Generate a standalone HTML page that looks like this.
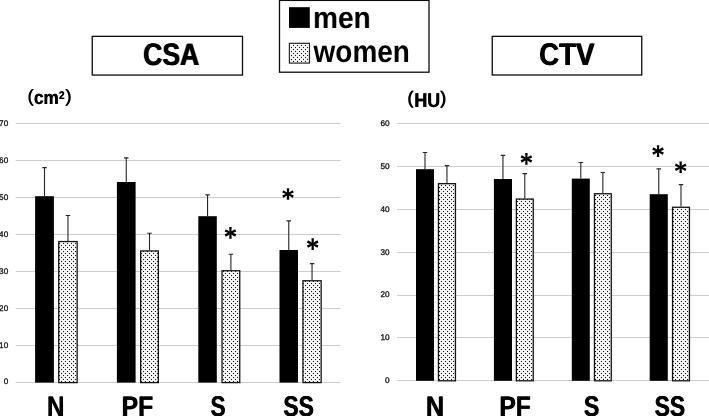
<!DOCTYPE html>
<html><head><meta charset="utf-8"><title>CSA / CTV</title>
<style>html,body{margin:0;padding:0;background:#fff;}body{width:709px;height:416px;overflow:hidden;font-family:"Liberation Sans",sans-serif;}svg{display:block;}text{font-family:"Liberation Sans",sans-serif;font-kerning:none;text-rendering:geometricPrecision;}</style>
</head><body>
<svg width="709" height="416" viewBox="0 0 709 416">
<defs>
<pattern id="dots" width="4" height="4" patternUnits="userSpaceOnUse"><rect width="4" height="4" fill="#fff"/><rect x="0.92" y="0.92" width="1.16" height="1.16" fill="#161616"/><rect x="2.92" y="2.92" width="1.08" height="1.08" fill="#161616"/><rect x="0" y="2.92" width="0.08" height="1.08" fill="#161616"/><rect x="2.92" y="0" width="1.08" height="0.08" fill="#161616"/></pattern>
<g id="ast"><path d="M-1.25,-5.8 L1.25,-5.8 L0.9,0 L1.25,5.8 L-1.25,5.8 L-0.9,0 Z" fill="#000"/><path d="M-1.3,-5.85 L1.3,-5.85 L0.9,0 L1.3,5.85 L-1.3,5.85 L-0.9,0 Z" fill="#000" transform="rotate(64)"/><path d="M-1.3,-5.85 L1.3,-5.85 L0.9,0 L1.3,5.85 L-1.3,5.85 L-0.9,0 Z" fill="#000" transform="rotate(-64)"/></g>
</defs>
<rect width="709" height="416" fill="#fff"/>
<g style="filter:grayscale(1)">
<line x1="15.8" y1="123.5" x2="340.6" y2="123.5" stroke="#cdcdcd" stroke-width="1"/>
<text x="8.2" y="126.15" font-size="8.2" text-anchor="end" fill="#111" stroke="#111" stroke-width="0.3">70</text>
<line x1="15.8" y1="160.5" x2="340.6" y2="160.5" stroke="#cdcdcd" stroke-width="1"/>
<text x="8.2" y="163.05" font-size="8.2" text-anchor="end" fill="#111" stroke="#111" stroke-width="0.3">60</text>
<line x1="15.8" y1="197.5" x2="340.6" y2="197.5" stroke="#cdcdcd" stroke-width="1"/>
<text x="8.2" y="199.95" font-size="8.2" text-anchor="end" fill="#111" stroke="#111" stroke-width="0.3">50</text>
<line x1="15.8" y1="234.5" x2="340.6" y2="234.5" stroke="#cdcdcd" stroke-width="1"/>
<text x="8.2" y="236.85" font-size="8.2" text-anchor="end" fill="#111" stroke="#111" stroke-width="0.3">40</text>
<line x1="15.8" y1="271.5" x2="340.6" y2="271.5" stroke="#cdcdcd" stroke-width="1"/>
<text x="8.2" y="273.75" font-size="8.2" text-anchor="end" fill="#111" stroke="#111" stroke-width="0.3">30</text>
<line x1="15.8" y1="308.5" x2="340.6" y2="308.5" stroke="#cdcdcd" stroke-width="1"/>
<text x="8.2" y="310.65" font-size="8.2" text-anchor="end" fill="#111" stroke="#111" stroke-width="0.3">20</text>
<line x1="15.8" y1="345.5" x2="340.6" y2="345.5" stroke="#cdcdcd" stroke-width="1"/>
<text x="8.2" y="347.55" font-size="8.2" text-anchor="end" fill="#111" stroke="#111" stroke-width="0.3">10</text>
<line x1="15.8" y1="382.5" x2="340.6" y2="382.5" stroke="#cdcdcd" stroke-width="1"/>
<text x="8.2" y="384.45" font-size="8.2" text-anchor="end" fill="#111" stroke="#111" stroke-width="0.3">0</text>
<rect x="35.1" y="196.2" width="18.80" height="186.40" fill="#000"/>
<path d="M44.50,196.2 V167.65 M42.25,167.65 H46.75" stroke="#262626" stroke-width="1.1" fill="none"/>
<rect x="116.9" y="182.0" width="18.70" height="200.60" fill="#000"/>
<path d="M126.25,182.0 V157.85 M124.00,157.85 H128.50" stroke="#262626" stroke-width="1.1" fill="none"/>
<rect x="198.3" y="216.2" width="18.50" height="166.40" fill="#000"/>
<path d="M207.55,216.2 V194.85 M205.30,194.85 H209.80" stroke="#262626" stroke-width="1.1" fill="none"/>
<rect x="279.5" y="250.0" width="18.50" height="132.60" fill="#000"/>
<path d="M288.75,250.0 V220.85 M286.50,220.85 H291.00" stroke="#262626" stroke-width="1.1" fill="none"/>
<rect x="58.75" y="241.55" width="18.40" height="141.05" fill="url(#dots)" stroke="#141414" stroke-width="1.3"/>
<path d="M67.95,240.9 V215.45 M65.70,215.45 H70.20" stroke="#262626" stroke-width="1.1" fill="none"/>
<rect x="140.65" y="250.95" width="17.70" height="131.65" fill="url(#dots)" stroke="#141414" stroke-width="1.3"/>
<path d="M149.50,250.3 V233.25 M147.25,233.25 H151.75" stroke="#262626" stroke-width="1.1" fill="none"/>
<rect x="222.05" y="270.75" width="17.70" height="111.85" fill="url(#dots)" stroke="#141414" stroke-width="1.3"/>
<path d="M230.90,270.1 V254.25 M228.65,254.25 H233.15" stroke="#262626" stroke-width="1.1" fill="none"/>
<rect x="302.95" y="280.75" width="18.20" height="101.85" fill="url(#dots)" stroke="#141414" stroke-width="1.3"/>
<path d="M312.05,280.1 V263.65 M309.80,263.65 H314.30" stroke="#262626" stroke-width="1.1" fill="none"/>
<line x1="397.0" y1="123.5" x2="709" y2="123.5" stroke="#cdcdcd" stroke-width="1"/>
<text x="389.5" y="126.20" font-size="8.2" text-anchor="end" fill="#111" stroke="#111" stroke-width="0.3">60</text>
<line x1="397.0" y1="166.5" x2="709" y2="166.5" stroke="#cdcdcd" stroke-width="1"/>
<text x="389.5" y="168.98" font-size="8.2" text-anchor="end" fill="#111" stroke="#111" stroke-width="0.3">50</text>
<line x1="397.0" y1="209.5" x2="709" y2="209.5" stroke="#cdcdcd" stroke-width="1"/>
<text x="389.5" y="211.76" font-size="8.2" text-anchor="end" fill="#111" stroke="#111" stroke-width="0.3">40</text>
<line x1="397.0" y1="252.5" x2="709" y2="252.5" stroke="#cdcdcd" stroke-width="1"/>
<text x="389.5" y="254.54" font-size="8.2" text-anchor="end" fill="#111" stroke="#111" stroke-width="0.3">30</text>
<line x1="397.0" y1="295.5" x2="709" y2="295.5" stroke="#cdcdcd" stroke-width="1"/>
<text x="389.5" y="297.32" font-size="8.2" text-anchor="end" fill="#111" stroke="#111" stroke-width="0.3">20</text>
<line x1="397.0" y1="337.5" x2="709" y2="337.5" stroke="#cdcdcd" stroke-width="1"/>
<text x="389.5" y="340.10" font-size="8.2" text-anchor="end" fill="#111" stroke="#111" stroke-width="0.3">10</text>
<line x1="397.0" y1="380.5" x2="709" y2="380.5" stroke="#cdcdcd" stroke-width="1"/>
<text x="389.5" y="382.88" font-size="8.2" text-anchor="end" fill="#111" stroke="#111" stroke-width="0.3">0</text>
<rect x="416.0" y="169.2" width="18.00" height="211.60" fill="#000"/>
<path d="M425.00,169.2 V152.45 M422.75,152.45 H427.25" stroke="#262626" stroke-width="1.1" fill="none"/>
<rect x="493.9" y="179.0" width="18.10" height="201.80" fill="#000"/>
<path d="M502.95,179.0 V155.35 M500.70,155.35 H505.20" stroke="#262626" stroke-width="1.1" fill="none"/>
<rect x="571.8" y="178.6" width="18.00" height="202.20" fill="#000"/>
<path d="M580.80,178.6 V162.55 M578.55,162.55 H583.05" stroke="#262626" stroke-width="1.1" fill="none"/>
<rect x="649.7" y="194.2" width="18.10" height="186.60" fill="#000"/>
<path d="M658.75,194.2 V168.85 M656.50,168.85 H661.00" stroke="#262626" stroke-width="1.1" fill="none"/>
<rect x="438.45" y="183.65" width="17.00" height="197.15" fill="url(#dots)" stroke="#141414" stroke-width="1.3"/>
<path d="M446.95,183.0 V165.65 M444.70,165.65 H449.20" stroke="#262626" stroke-width="1.1" fill="none"/>
<rect x="516.35" y="199.05" width="16.90" height="181.75" fill="url(#dots)" stroke="#141414" stroke-width="1.3"/>
<path d="M524.80,198.4 V173.65 M522.55,173.65 H527.05" stroke="#262626" stroke-width="1.1" fill="none"/>
<rect x="594.45" y="193.75" width="16.80" height="187.05" fill="url(#dots)" stroke="#141414" stroke-width="1.3"/>
<path d="M602.85,193.1 V172.45 M600.60,172.45 H605.10" stroke="#262626" stroke-width="1.1" fill="none"/>
<rect x="672.55" y="207.25" width="16.90" height="173.55" fill="url(#dots)" stroke="#141414" stroke-width="1.3"/>
<path d="M681.00,206.6 V184.65 M678.75,184.65 H683.25" stroke="#262626" stroke-width="1.1" fill="none"/>
<use href="#ast" x="230.45" y="232.9"/>
<use href="#ast" x="288.0" y="194.0"/>
<use href="#ast" x="312.7" y="244.1"/>
<use href="#ast" x="526.4" y="158.9"/>
<use href="#ast" x="658.05" y="151.1"/>
<use href="#ast" x="680.65" y="167.25"/>
<rect x="92.25" y="36.35" width="150.25" height="38.7" fill="#fff" stroke="#0c0c0c" stroke-width="1.3"/>
<rect x="492.25" y="36.35" width="149.5" height="38.65" fill="#fff" stroke="#0c0c0c" stroke-width="1.3"/>
<text id="t1" transform="translate(142.710,64.597) scale(1.3283,1.5537)" font-size="20" font-weight="bold" fill="#000">CSA</text>
<use href="#t1" x="0.900"/>
<text id="t2" transform="translate(538.663,64.594) scale(1.3857,1.5678)" font-size="20" font-weight="bold" fill="#000">CTV</text>
<use href="#t2" x="0.900"/>
<rect x="279.5" y="0.4" width="149.5" height="71.8" fill="#fff" stroke="#0c0c0c" stroke-width="1.3"/>
<rect x="289" y="7.2" width="20.8" height="20.7" fill="#000"/>
<rect x="289.4" y="43.3" width="20.1" height="19.8" fill="url(#dots)" stroke="#2a2a2a" stroke-width="1.2"/>
<text transform="translate(313.054,28.304) scale(1.4003,1.5137)" font-size="20" font-weight="bold" fill="#000">men</text>
<text transform="translate(313.582,61.797) scale(1.3970,1.5501)" font-size="20" font-weight="bold" fill="#000">women</text>
<text id="t3" transform="translate(27.231,101.989) scale(0.9429,0.8963)" font-size="20" fill="#000">(</text>
<use href="#t3" x="0.600"/>
<text id="t4" transform="translate(33.732,103.913) scale(0.8555,0.9574)" font-size="20" font-weight="bold" fill="#000">cm</text>
<use href="#t4" x="0.400"/>
<text id="t5" transform="translate(58.854,99.100) scale(0.4985,0.5585)" font-size="20" font-weight="bold" fill="#000">2</text>
<use href="#t5" x="0.500"/>
<text id="t6" transform="translate(64.887,101.989) scale(0.9618,0.8963)" font-size="20" fill="#000">)</text>
<use href="#t6" x="0.600"/>
<text id="t7" transform="translate(407.031,104.244) scale(0.9429,0.9070)" font-size="20" fill="#000">(</text>
<use href="#t7" x="0.600"/>
<text id="t8" transform="translate(414.006,106.905) scale(0.8926,0.9961)" font-size="20" font-weight="bold" fill="#000">HU</text>
<use href="#t8" x="0.700"/>
<text id="t9" transform="translate(439.792,104.244) scale(0.9241,0.9070)" font-size="20" fill="#000">)</text>
<use href="#t9" x="0.600"/>
<text id="t10" transform="translate(46.684,415.800) scale(1.2077,1.4208)" font-size="20" font-weight="bold" fill="#000">N</text>
<use href="#t10" x="0.600"/>
<text id="t11" transform="translate(121.348,415.800) scale(1.2348,1.4208)" font-size="20" font-weight="bold" fill="#000">PF</text>
<use href="#t11" x="0.600"/>
<text id="t12" transform="translate(210.246,415.920) scale(1.1350,1.4336)" font-size="20" font-weight="bold" fill="#000">S</text>
<use href="#t12" x="0.600"/>
<text id="t13" transform="translate(283.092,415.920) scale(1.1413,1.4336)" font-size="20" font-weight="bold" fill="#000">SS</text>
<use href="#t13" x="0.600"/>
<text id="t14" transform="translate(425.555,415.800) scale(1.2672,1.4208)" font-size="20" font-weight="bold" fill="#000">N</text>
<use href="#t14" x="0.600"/>
<text id="t15" transform="translate(499.104,415.800) scale(1.2305,1.4208)" font-size="20" font-weight="bold" fill="#000">PF</text>
<use href="#t15" x="0.600"/>
<text id="t16" transform="translate(583.582,415.920) scale(1.1600,1.4336)" font-size="20" font-weight="bold" fill="#000">S</text>
<use href="#t16" x="0.600"/>
<text id="t17" transform="translate(654.342,415.920) scale(1.1413,1.4336)" font-size="20" font-weight="bold" fill="#000">SS</text>
<use href="#t17" x="0.600"/>
</g>
</svg>
</body></html>
